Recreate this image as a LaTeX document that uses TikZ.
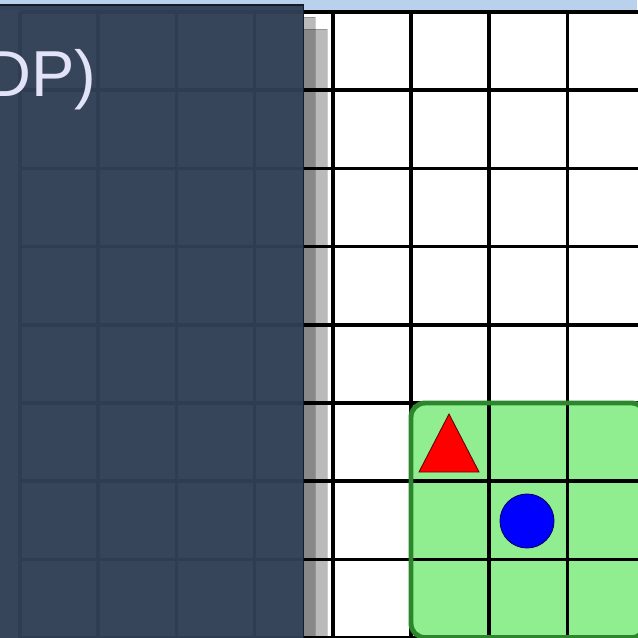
\documentclass[tikz,border=0pt]{standalone}
\usepackage{fontspec}
\setmainfont{Liberation Sans}
\usetikzlibrary{positioning}
\definecolor{topblue}{RGB}{185,209,236}
\definecolor{panelnavy}{RGB}{48,63,85}
\definecolor{panelline}{RGB}{20,30,42}
\definecolor{titlelav}{RGB}{226,226,248}
\definecolor{zonegreen}{RGB}{144,238,144}
\definecolor{zoneedge}{RGB}{44,134,44}

\begin{document}
\begin{tikzpicture}[x=0.02cm,y=-0.02cm]
            \useasboundingbox (0,0) rectangle (637,638);

            % Top strip
            \fill[topblue] (0,0) rectangle (637,10);

            % Goal zone fill
            \fill[zonegreen, rounded corners=8pt] (411,403) rectangle (645.6,637.6);

            % Grid
            \foreach \i in {0,...,8} {
                \draw[line width=2pt] (20+78.2*\i,12) -- (20+78.2*\i,637.6);
                \draw[line width=2pt] (20,12+78.2*\i) -- (645.6,12+78.2*\i);
            }

            % Goal zone border
            \draw[zoneedge, line width=2.8pt, rounded corners=8pt] (411,403) rectangle (645.6,637.6);

            % Triangle and circle
            \filldraw[fill=red, draw=red!40!black, line width=0.5pt] (449,414) -- (479,472) -- (419,472) -- cycle;
            \filldraw[fill=blue, draw=blue!40!black, line width=0.5pt] (527,521) circle[radius=27];

            % Stacked panel shadows (only the parts beside the panel)
            \filldraw[fill=black, fill opacity=0.27, draw=black, draw opacity=0.2, line width=0.4pt] (303.5,29) -- (327,29) -- (327,660) -- (303.5,660);
            \filldraw[fill=black, fill opacity=0.27, draw=black, draw opacity=0.2, line width=0.4pt] (303.5,17) -- (315,17) -- (315,660) -- (303.5,660);

            % Dark panel
            \filldraw[fill=panelnavy, fill opacity=0.97, draw=panelline, line width=0.6pt] (-20,5) rectangle (303.5,660);

            % Title
            \node[anchor=base east, inner sep=0, text=titlelav, font=\fontsize{37}{41}\selectfont] (title) at (97,97) {DP)};
\end{tikzpicture}
\end{document}
